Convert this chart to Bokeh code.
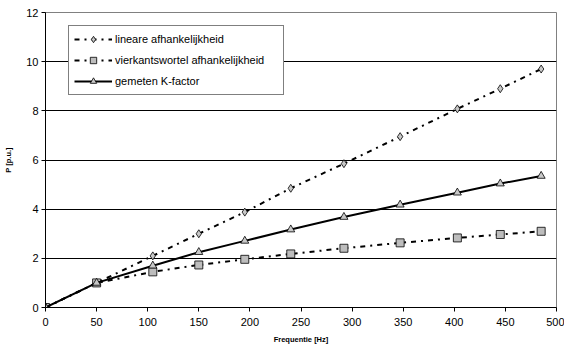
from bokeh.plotting import figure
from bokeh.embed import file_html
from bokeh.resources import INLINE
from bokeh.models import Range1d, FixedTicker, Legend, LegendItem

freq = [0, 50, 105, 150, 195, 240, 292, 347, 403, 445, 485]
lineair = [0, 1.0, 2.1, 3.0, 3.88, 4.85, 5.85, 6.95, 8.08, 8.9, 9.7]
wortel = [0, 1.0, 1.45, 1.73, 1.96, 2.18, 2.41, 2.63, 2.83, 2.97, 3.1]
gemeten = [0, 1.0, 1.7, 2.25, 2.71, 3.17, 3.68, 4.18, 4.67, 5.04, 5.35]

labels = ["lineare afhankelijkheid", "vierkantswortel afhankelijkheid", "gemeten K-factor"]
x_ticks = list(range(0, 501, 50))
y_ticks = [0, 2, 4, 6, 8, 10, 12]

FONT = "Liberation Sans"

p = figure(width=564, height=347, output_backend="svg", toolbar_location=None,
           x_range=Range1d(0, 500), y_range=Range1d(0, 12),
           min_border_left=45, min_border_right=8, min_border_top=12, min_border_bottom=40)
p.background_fill_color = "white"
p.border_fill_color = "white"
p.outline_line_color = "#808080"
p.outline_line_width = 1

p.xgrid.grid_line_color = None
p.ygrid.ticker = FixedTicker(ticks=[2, 4, 6, 8, 10])
p.ygrid.grid_line_color = "black"
p.ygrid.grid_line_width = 1

for ax, ticks in ((p.xaxis, x_ticks), (p.yaxis, y_ticks)):
    ax.ticker = FixedTicker(ticks=ticks)
    ax.minor_tick_line_color = None
    ax.major_tick_out = 4
    ax.major_tick_in = 0
    ax.axis_line_color = "black"
    ax.major_tick_line_color = "black"
    ax.major_label_text_font = FONT
    ax.major_label_text_font_size = "11px"
    ax.major_label_text_color = "black"
    ax.axis_label_text_font = FONT
    ax.axis_label_text_font_style = "bold"
    ax.axis_label_text_font_size = "7.5px"
    ax.axis_label_text_color = "black"

p.xaxis.axis_label = "Frequentie [Hz]"
p.yaxis.axis_label = "P [p.u.]"
p.xaxis.major_label_standoff = 6
p.xaxis.axis_label_standoff = 6
p.yaxis.major_label_standoff = 3
p.yaxis.axis_label_standoff = 10

dash = "5 5 2 5"
r1l = p.line(freq, lineair, line_color="black", line_width=2, line_dash=dash)
r1m = p.scatter(freq, lineair, marker="diamond", size=8, fill_color="#c8c8c8",
                line_color="black", line_width=0.8)
r2l = p.line(freq, wortel, line_color="black", line_width=2, line_dash=dash)
r2m = p.scatter(freq, wortel, marker="square", size=8, fill_color="#bdbdbd",
                line_color="black", line_width=0.8)
r3l = p.line(freq, gemeten, line_color="black", line_width=2)
r3m = p.scatter(freq, gemeten, marker="triangle", size=8, fill_color="#c8c8c8",
                line_color="black", line_width=0.8)

legend = Legend(items=[LegendItem(label=labels[0], renderers=[r1l, r1m]),
                       LegendItem(label=labels[1], renderers=[r2l, r2m]),
                       LegendItem(label=labels[2], renderers=[r3l, r3m])],
                location=(23, 212))
legend.border_line_color = "black"
legend.border_line_width = 1
legend.background_fill_color = "white"
legend.background_fill_alpha = 1
legend.label_text_font = FONT
legend.label_text_font_size = "11px"
legend.label_text_color = "black"
legend.glyph_width = 38
legend.glyph_height = 16
legend.label_height = 16
legend.label_width = 163
legend.spacing = 5
legend.padding = 5
legend.margin = 0
legend.label_standoff = 3
p.add_layout(legend, "center")

open("out.html", "w").write(file_html(p, INLINE))
